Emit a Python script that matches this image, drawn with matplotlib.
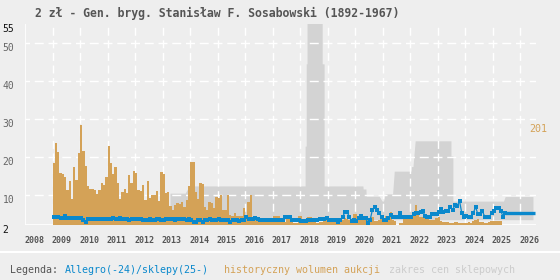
import matplotlib
matplotlib.use("Agg")
import matplotlib.pyplot as plt
from matplotlib.lines import Line2D

plt.rcParams["font.family"] = ["DejaVu Sans Mono"]
plt.rcParams["lines.scale_dashes"] = False

BG = "#eeeeee"
BLUE = "#0a88cc"
ORANGE = "#d4a257"
GRAY = "#d3d3d3"

title = "2 zł - Gen. bryg. Stanisław F. Sosabowski (1892-1967)"
year_labels = [str(y) for y in range(2008, 2027)]
y_ticks = [2, 10, 20, 30, 40, 50, 55]

# historyczny wolumen aukcji, monthly from Jan 2009 (chart units)
volume = [
    18.4, 23.7, 21.3, 15.8, 15.5, 14.7, 11.2, 13.7, 8.9, 17.4, 13.9, 21.1,   # 2009
    28.4, 21.5, 17.6, 12.3, 11.6, 11.4, 11.2, 10.2, 11.2, 13.2, 12.6, 14.7,  # 2010
    22.7, 18.4, 15.5, 17.4, 13.2, 8.8, 10.8, 11.4, 10.4, 15.2, 13.0, 16.2,   # 2011
    15.8, 11.2, 11.0, 12.6, 8.6, 13.6, 9.2, 9.9, 9.9, 11.0, 8.3, 16.1,       # 2012
    15.5, 10.4, 10.6, 7.0, 6.0, 7.3, 7.7, 7.6, 8.1, 6.8, 8.6, 12.4,          # 2013
    18.7, 18.7, 10.8, 8.8, 13.2, 12.8, 6.8, 6.0, 8.1, 7.9, 6.4, 9.5,         # 2014
    9.0, 9.9, 6.0, 6.0, 9.9, 4.6, 4.4, 5.2, 4.4, 4.4, 4.4, 6.4,              # 2015
    4.0, 8.1, 9.9, 4.0, 3.8, 3.0, 2.9, 2.7, 2.9, 3.0, 2.8, 2.9,              # 2016
    4.4, 4.4, 4.4, 3.0, 2.9, 2.9, 4.0, 4.0, 2.7, 2.6, 2.6, 4.5,              # 2017
    4.5, 2.5, 2.6, 4.2, 4.2, 2.8, 2.7, 2.6, 2.7, 2.8, 3.3, 4.4,              # 2018
    3.0, 3.0, 2.9, 3.0, 3.5, 3.3, 3.3, 3.8, 3.5, 3.3, 3.5, 4.8,              # 2019
    4.8, 4.2, 3.5, 3.5, 3.8, 3.5, 3.5, 4.2, 3.1, 3.1, 3.3, 3.8,              # 2020
    3.5, 4.4, 3.3, 5.4, 3.3, 3.0, 2.0, 2.5, 2.5, 3.5, 3.5, 3.8,              # 2021
    4.2, 4.6, 7.3, 4.6, 4.2, 4.2, 3.8, 3.5, 3.3, 3.3, 3.3, 3.8,              # 2022
    4.2, 3.1, 2.9, 2.9, 2.9, 2.6, 2.6, 2.9, 2.9, 2.6, 2.6, 2.5,              # 2023
    2.5, 2.7, 2.6, 3.1, 3.3, 3.5, 2.9, 2.7, 2.6, 2.5, 2.9, 3.1,              # 2024
    3.1, 3.0, 3.0, 3.0,                                                      # 2025
]

# Allegro prices (monthly, from Jan 2009)
price = [
    4.2, 4.2, 4.2, 3.9, 3.9, 4.4, 3.9, 3.9, 3.9, 3.9, 3.9, 3.9,   # 2009
    3.9, 3.3, 2.8, 3.6, 3.6, 3.6, 3.6, 3.6, 3.5, 3.7, 3.6, 3.5,   # 2010
    3.7, 3.5, 3.8, 3.5, 3.6, 3.9, 3.5, 3.6, 3.5, 3.4, 3.6, 3.5,   # 2011
    3.6, 3.6, 3.6, 3.3, 3.4, 3.4, 3.5, 3.3, 3.4, 3.5, 3.5, 3.3,   # 2012
    3.3, 3.5, 3.5, 3.5, 3.5, 3.4, 3.5, 3.5, 3.6, 3.5, 3.4, 3.5,   # 2013
    3.3, 2.9, 2.9, 3.3, 3.3, 2.9, 3.3, 3.4, 3.5, 3.3, 3.3, 3.4,   # 2014
    3.5, 3.3, 3.4, 3.3, 3.3, 2.9, 3.4, 3.3, 3.3, 3.1, 3.3, 3.3,   # 2015
    4.0, 3.6, 3.5, 3.5, 3.8, 3.6, 3.4, 3.4, 3.4, 3.4, 3.4, 3.4,   # 2016
    3.4, 3.4, 3.4, 3.4, 3.4, 4.2, 4.2, 4.2, 3.4, 3.4, 3.4, 3.4,   # 2017
    3.1, 3.0, 3.1, 3.4, 3.4, 3.3, 3.3, 3.3, 3.7, 3.7, 3.7, 3.8,   # 2018
    3.3, 3.3, 3.3, 3.3, 2.7, 3.3, 4.2, 5.3, 5.3, 4.2, 3.0, 3.4,   # 2019
    3.0, 3.8, 4.3, 3.8, 3.8, 2.6, 3.3, 6.0, 6.8, 6.0, 5.1, 4.2,   # 2020
    3.3, 3.3, 3.8, 4.6, 4.2, 4.0, 4.0, 5.1, 4.2, 4.2, 4.0, 4.2,   # 2021
    4.2, 5.0, 5.1, 5.1, 5.4, 5.6, 4.4, 4.2, 4.2, 4.8, 5.0, 5.0,   # 2022
    5.3, 6.1, 5.5, 5.8, 5.8, 6.8, 6.0, 7.3, 7.1, 8.3, 5.1, 4.2,   # 2023
    4.3, 4.2, 4.2, 5.1, 6.8, 4.8, 4.9, 5.6, 4.2, 4.2, 4.2, 5.1,   # 2024
    5.6, 6.5, 6.4, 5.7, 4.2, 5.1,                                 # 2025
]

# shop prices (sklepy) from 2025
shop_x = [2025.45, 2026.52]
shop_price = [5.1, 5.1]

# zakres cen sklepowych: outline of the band
band_x = [2013.27, 2013.82, 2013.97, 2018.18, 2018.18, 2018.22, 2018.22, 2018.25,
          2018.25, 2018.80, 2018.80, 2018.87, 2018.87, 2020.28, 2020.29, 2020.39,
          2020.40, 2020.87, 2020.98, 2021.03, 2021.09, 2021.36, 2021.42, 2022.03,
          2022.04, 2022.10, 2022.18, 2023.48, 2023.48, 2023.55, 2023.55, 2025.39,
          2025.45, 2026.46]
band_hi = [10.4, 10.4, 12.3, 12.3, 22.8, 22.8, 44.5, 44.5,
           60.0, 60.0, 44.5, 44.5, 12.3, 12.3, 11.5, 11.5,
           9.6, 9.6, 8.3, 8.3, 10.2, 10.2, 16.2, 16.2,
           17.4, 17.4, 24.2, 24.2, 20.2, 20.2, 8.3, 8.3,
           9.5, 9.5]
band_lo = 3.4
volume_max_label = "201"

fig = plt.figure(figsize=(5.6, 2.8), dpi=100, facecolor=BG)
W, H = 560, 280
ax = fig.add_axes([25 / W, 55 / H, 510.7 / W, 201 / H])
ax.set_facecolor(BG)
ax.set_xlim(2008, 2026.56)
ax.set_ylim(2, 55)
ax.axis("off")

# price band
ax.fill_between(band_x, band_lo, band_hi, color=GRAY, linewidth=0, zorder=1)

# grid
for v in y_ticks[1:-1]:
    ax.axhline(v, color="white", lw=1.0, zorder=2,
               linestyle=(3.24, (6.48, 3.42)))
for yr in range(2009, 2027):
    ax.axvline(yr, color="white", lw=1.0, zorder=2,
               linestyle=(8.2, (5.76, 3.29)))
ax.axvline(2008, color="white", lw=1.2, zorder=2)
ax.axhline(2, color="white", lw=1.2, zorder=2)

# volume bars
bar_x = [2009 + i / 12 for i in range(len(volume))]
ax.bar(bar_x, [v - 2 for v in volume], bottom=2, width=1 / 12, align="edge",
       color=ORANGE, linewidth=0, zorder=3, clip_on=False)

# prices
price_x = [2009 + (i + 0.5) / 12 for i in range(len(price))]
ax.plot(price_x, price, color=BLUE, lw=0.9, marker="s", markersize=2.4,
        markeredgewidth=0, zorder=4)
ax.plot(shop_x, shop_price, color=BLUE, lw=2.4, solid_capstyle="butt", zorder=4)

# axis labels
for lab in year_labels:
    ax.text(int(lab) - 0.03, -0.075, lab, transform=ax.get_xaxis_transform(),
            ha="left", va="center", fontsize=6, fontweight="bold", color="#555555")
for v in y_ticks:
    col = "#111111" if v in (2, 55) else "#666666"
    ax.text(2008 - 22.3 / 27.5, v, str(v), ha="left", va="top", fontsize=7,
            color=col)

fig.text(529 / W, 1 - 129 / H, volume_max_label, ha="left", va="center",
         fontsize=7.2, color=ORANGE)

fig.text(34.6 / W, 1 - 13 / H, title, ha="left", va="center", fontsize=8.3,
         fontweight="bold", color="#555555")

fig.add_artist(Line2D([0, 1], [1 - 252 / H] * 2, color="white", lw=1.5,
                      transform=fig.transFigure))
ly = 1 - 270 / H
fig.text(9.6 / W, ly, "Legenda:", ha="left", va="center", fontsize=7.2, color="#555555")
fig.text(64.6 / W, ly, "Allegro(-24)/sklepy(25-)", ha="left", va="center",
         fontsize=7.2, color=BLUE)
fig.text(224 / W, ly, "historyczny wolumen aukcji", ha="left", va="center",
         fontsize=7.2, color=ORANGE)
fig.text(389 / W, ly, "zakres cen sklepowych", ha="left", va="center",
         fontsize=7.2, color="#cccccc")

fig.savefig("out.png", dpi=100, facecolor=BG)
